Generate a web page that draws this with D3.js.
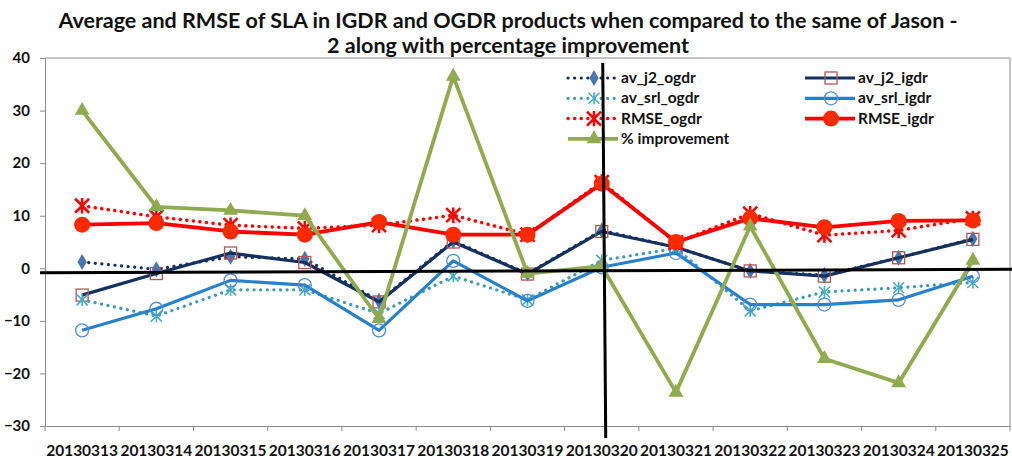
<!DOCTYPE html>
<html>
<head>
	<meta charset="utf-8">
	<title>SLA IGDR / OGDR vs Jason-2</title>
	<script type="text/javascript" src="https://cdn.jsdelivr.net/npm/d3@7"></script>
	<style>
		body { margin: 0; background: #fff; }
		text { font-family: Lato, "Open Sans", sans-serif; font-weight: bold; }
	</style>
</head>
<body>
	<script type="text/javascript">
		var svgWidth = 1012;
		var svgHeight = 462;

		// categories (dates) and series values
		var dates = ["20130313", "20130314", "20130315", "20130316", "20130317", "20130318", "20130319",
			"20130320", "20130321", "20130322", "20130323", "20130324", "20130325"];
		var av_j2_ogdr = [1.2, -0.2, 2.2, 1.8, -6.2, 5.2, -1.0, 7.2, 4.0, -0.5, -1.3, 2.0, 5.6];
		var av_j2_igdr = [-5.1, -1.0, 2.9, 1.1, -6.4, 5.0, -1.1, 7.0, 4.0, -0.5, -1.5, 2.0, 5.5];
		var av_srl_ogdr = [-6.0, -9.1, -4.1, -4.1, -8.6, -1.5, -6.0, 1.5, 3.8, -8.1, -4.5, -3.7, -2.7];
		var av_srl_igdr = [-11.8, -7.7, -2.3, -3.2, -11.8, 1.4, -6.2, 0.2, 2.9, -6.9, -6.9, -6.0, -1.5];
		var rmse_ogdr = [11.9, 9.8, 8.2, 7.6, 8.2, 10.1, 6.4, 16.4, 4.9, 10.4, 6.3, 7.2, 9.5];
		var rmse_igdr = [8.3, 8.6, 7.0, 6.4, 8.8, 6.4, 6.4, 16.1, 5.0, 9.5, 7.8, 9.0, 9.1];
		var improvement = [30.0, 11.7, 11.0, 10.0, -9.6, 36.5, -1.0, 0.4, -23.6, 8.0, -17.2, -21.8, 1.5];
		var yTicks = [-30, -20, -10, 0, 10, 20, 30, 40];

		// series in excel order (legend fills row by row)
		var series = [
			{name: "av_j2_ogdr", values: av_j2_ogdr, color: "#14305F", dotted: true, width: 3.2, marker: "diamond", mColor: "#4A76B0"},
			{name: "av_j2_igdr", values: av_j2_igdr, color: "#14305F", dotted: false, width: 3.2, marker: "square", mColor: "#B85450"},
			{name: "av_srl_ogdr", values: av_srl_ogdr, color: "#3E9BB2", dotted: true, width: 3.2, marker: "star", mColor: "#4BACC6"},
			{name: "av_srl_igdr", values: av_srl_igdr, color: "#2680CB", dotted: false, width: 3.2, marker: "circle", mColor: "#4F8FD9"},
			{name: "RMSE_ogdr", values: rmse_ogdr, color: "#FF0000", dotted: true, width: 3.5, marker: "bigstar", mColor: "#FF0000"},
			{name: "RMSE_igdr", values: rmse_igdr, color: "#FF0000", dotted: false, width: 3.8, marker: "dot", mColor: "#FF2A00"},
			{name: "% improvement", values: improvement, color: "#8FAA4F", dotted: false, width: 3.8, marker: "triangle", mColor: "#8FAA4F"}
		];

		var svg = d3.select("body")
			.append("svg")
			.attr("width", svgWidth)
			.attr("height", svgHeight);

		var x = d3.scaleBand().domain(dates).range([45, 1010]);
		var y = d3.scaleLinear().domain([-30, 40]).range([426, 58]);
		var cx = function(d, i) { return x(dates[i]) + x.bandwidth() / 2; };

		// title
		var title = svg.append("text")
			.attr("text-anchor", "middle")
			.attr("font-size", "21.5px")
			.attr("fill", "#111");
		title.append("tspan").attr("x", 508).attr("y", 28)
			.text("Average and RMSE of SLA in IGDR and OGDR products when compared to the same of Jason -");
		title.append("tspan").attr("x", 508).attr("y", 53)
			.text("2 along with percentage improvement");

		// plot frame (top + right)
		svg.append("path")
			.attr("d", "M45," + y(40) + "H1010V" + y(-30))
			.attr("fill", "none")
			.attr("stroke", "#8c8c8c")
			.attr("stroke-width", 1);

		// y axis
		var yAxis = svg.append("g")
			.attr("transform", "translate(45,0)")
			.call(d3.axisLeft(y).tickValues(yTicks).tickSize(5).tickPadding(10));
		yAxis.selectAll("path,line").attr("stroke", "#8c8c8c");
		yAxis.selectAll("text").attr("font-size", "15px").attr("fill", "#111")
			.style("font-family", "Lato, sans-serif").style("font-weight", "bold");

		// x axis: labels at centres, ticks at band edges
		var xAxis = svg.append("g")
			.attr("transform", "translate(0," + y(-30) + ")")
			.call(d3.axisBottom(x).tickSize(0).tickPadding(19));
		xAxis.select("path").attr("stroke", "#8c8c8c");
		xAxis.selectAll("text").attr("font-size", "15.5px").attr("fill", "#111")
			.style("font-family", "Lato, sans-serif").style("font-weight", "bold");
		svg.selectAll("line.xtick")
			.data(dates.concat(["end"]))
			.enter()
			.append("line")
			.attr("class", "xtick")
			.attr("x1", function(d, i) { return x.range()[0] + i * x.step(); })
			.attr("x2", function(d, i) { return x.range()[0] + i * x.step(); })
			.attr("y1", y(-30))
			.attr("y2", y(-30) + 5)
			.attr("stroke", "#8c8c8c");

		// marker drawing
		function drawMarker(g, s, px, py) {
			if (s.marker == "diamond") {
				g.append("path").attr("d", d3.symbol(d3.symbolDiamond, 75)())
					.attr("transform", "translate(" + px + "," + py + ")")
					.attr("fill", s.mColor);
			} else if (s.marker == "square") {
				g.append("rect").attr("x", px - 6).attr("y", py - 6).attr("width", 12).attr("height", 12)
					.attr("fill", "none").attr("stroke", s.mColor).attr("stroke-width", 1.3);
			} else if (s.marker == "circle") {
				g.append("circle").attr("cx", px).attr("cy", py).attr("r", 6.5)
					.attr("fill", "none").attr("stroke", s.mColor).attr("stroke-width", 1.3);
			} else if (s.marker == "dot") {
				g.append("circle").attr("cx", px).attr("cy", py).attr("r", 8)
					.attr("fill", s.mColor);
			} else if (s.marker == "triangle") {
				g.append("path").attr("d", d3.symbol(d3.symbolTriangle, 95)())
					.attr("transform", "translate(" + px + "," + py + ")")
					.attr("fill", s.mColor);
			} else {
				// asterisk: X plus vertical bar
				var r = s.marker == "bigstar" ? 7 : 5.5;
				var p = "M" + (px - r) + "," + (py - r) + "L" + (px + r) + "," + (py + r) +
					"M" + (px - r) + "," + (py + r) + "L" + (px + r) + "," + (py - r) +
					"M" + px + "," + (py - r * 1.1) + "L" + px + "," + (py + r * 1.1);
				g.append("path").attr("d", p)
					.attr("stroke", s.mColor)
					.attr("stroke-width", s.marker == "bigstar" ? 2.6 : 1.6)
					.attr("fill", "none");
			}
		}

		var line = d3.line()
			.x(cx)
			.y(function(d) { return y(d); });

		series.forEach(function(s) {
			var g = svg.append("g");
			g.append("path")
				.datum(s.values)
				.attr("d", line)
				.attr("fill", "none")
				.attr("stroke", s.color)
				.attr("stroke-width", s.width)
				.attr("stroke-linecap", s.dotted ? "round" : "butt")
				.attr("stroke-linejoin", "round")
				.attr("stroke-dasharray", s.dotted ? "0.1,6.5" : null);
			s.values.forEach(function(v, i) {
				drawMarker(g, s, cx(v, i), y(v));
			});
		});

		// legend: two columns, filled row by row
		var legend = svg.append("g");
		series.forEach(function(s, i) {
			var col = i < 6 ? i % 2 : 0;
			var row = i < 6 ? Math.floor(i / 2) : 3;
			var lx = col == 0 ? 568 : 805;
			var ly = 78 + row * 20.3;
			legend.append("line")
				.attr("x1", lx).attr("x2", lx + 50)
				.attr("y1", ly).attr("y2", ly)
				.attr("stroke", s.color)
				.attr("stroke-width", s.width)
				.attr("stroke-linecap", s.dotted ? "round" : "butt")
				.attr("stroke-dasharray", s.dotted ? "0.1,6.5" : null);
			drawMarker(legend, s, lx + 26, ly);
			legend.append("text")
				.attr("x", lx + 53)
				.attr("y", ly + 5)
				.attr("font-size", "15.5px")
				.attr("fill", "#111")
				.text(s.name);
		});

		// hand drawn black guide lines (near zero and at 20130320)
		var midX = x("20130320") + x.bandwidth() / 2;
		svg.append("line")
			.attr("x1", 40).attr("y1", y(-0.85))
			.attr("x2", 1012).attr("y2", y(-0.2))
			.attr("stroke", "#000").attr("stroke-width", 3);
		svg.append("line")
			.attr("x1", midX + 1).attr("y1", 63)
			.attr("x2", midX + 4).attr("y2", 438)
			.attr("stroke", "#000").attr("stroke-width", 3);
	</script>
</body>
</html>
